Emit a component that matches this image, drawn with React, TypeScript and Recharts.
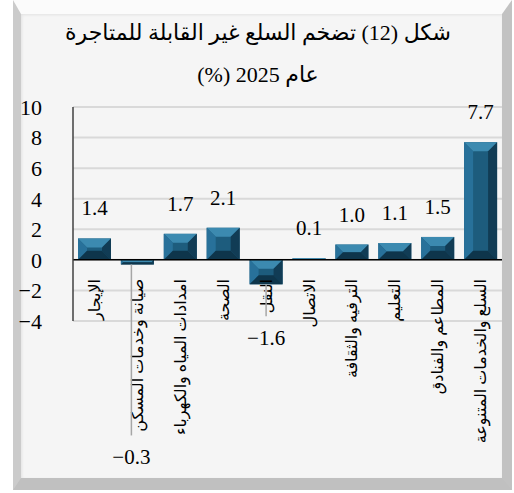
import { BarChart, Bar, XAxis, YAxis, CartesianGrid, ReferenceLine, LabelList } from "recharts";

const categories = [
	"الإيجار",
	"صيانة وخدمات المسكن",
	"امدادات المياه والكهرباء",
	"الصحة",
	"النقل",
	"الاتصال",
	"الترفيه والثقافة",
	"التعليم",
	"المطاعم والفنادق",
	"السلع والخدمات المتنوعة",
];
const values = [1.4, -0.3, 1.7, 2.1, -1.6, 0.1, 1.0, 1.1, 1.5, 7.7];
const yTicks = [-4, -2, 0, 2, 4, 6, 8, 10];
const titleLines = ["شكل (12) تضخم السلع غير القابلة للمتاجرة", "عام 2025 (%)"];

const data = categories.map((name, i) => ({ name, value: values[i] }));

// labels for negative bars were dragged down in the original, with leader lines
const negLabelDrop: Record<number, { drop: number; dx: number }> = {
	1: { drop: 193, dx: -6 },
	4: { drop: 54, dx: 0 },
};

const serif = "'Liberation Serif', 'DejaVu Serif', 'DejaVu Sans', serif";
const fmt = (v: number) => v.toFixed(1).replace("-", "\u2212");

function BevelBar(props: any) {
	const { x, y, width, height } = props;
	const t = Math.min(y, y + height);
	const h = Math.abs(height);
	if (!h || !width) return null;
	const l = x;
	const r = x + width;
	const btm = t + h;
	const b = Math.min(9, width / 2, h / 2);
	return (
		<g>
			<rect x={l} y={t} width={width} height={h} fill="#1d5c7d" />
			<polygon points={`${l},${t} ${r},${t} ${r - b},${t + b} ${l + b},${t + b}`} fill="#3c8ab0" />
			<polygon points={`${l},${t} ${l + b},${t + b} ${l + b},${btm - b} ${l},${btm}`} fill="#28719a" />
			<polygon points={`${r},${t} ${r},${btm} ${r - b},${btm - b} ${r - b},${t + b}`} fill="#113c55" />
			<polygon points={`${l},${btm} ${l + b},${btm - b} ${r - b},${btm - b} ${r},${btm}`} fill="#0e354b" />
		</g>
	);
}

function ValueLabel(props: any) {
	const vb = props.viewBox ?? props;
	const { x, y, width, height } = vb;
	const index = props.index;
	const value = Number(props.value);
	const t = Math.min(y, y + height);
	const btm = Math.max(y, y + height);
	const cx = x + width / 2;
	if (value >= 0) {
		return (
			<text x={cx} y={t - 23} textAnchor="middle" fontSize={21} fontFamily={serif} fill="#000">
				{fmt(value)}
			</text>
		);
	}
	const off = negLabelDrop[index] ?? { drop: 30, dx: 0 };
	return (
		<g>
			<line x1={cx + off.dx} x2={cx + off.dx} y1={btm} y2={btm + off.drop - 22} stroke="#a6a6a6" strokeWidth={1.5} />
			<text x={cx + off.dx} y={btm + off.drop + 7} textAnchor="middle" fontSize={21} fontFamily={serif} fill="#000">
				{fmt(value)}
			</text>
		</g>
	);
}

function CategoryTick(props: any) {
	const { x, y, payload } = props;
	return (
		<text
			x={0}
			y={0}
			dy="0.35em"
			transform={`translate(${x},${y - 50}) rotate(-90)`}
			textAnchor="end"
			fontSize={16}
			fontFamily={serif}
			fill="#000"
		>
			{payload.value}
		</text>
	);
}

export default function App() {
	return (
		<div style={{ position: "absolute", left: 0, top: 0, width: 514, height: 493, background: "#ffffff", overflow: "hidden" }}>
			<div
				style={{
					position: "absolute",
					left: 13,
					top: 0,
					width: 499,
					height: 490,
					boxSizing: "border-box",
					borderStyle: "solid",
					borderWidth: "14px 10px 12px 8px",
					borderColor: "#fbfbfb #c2c2c2 #c0c0c0 #cbcbcb",
					background: "#f5f5f5",
					boxShadow: "inset 1px 1px 3px rgba(0,0,0,0.08)",
				}}
			/>
			<div
				style={{
					position: "absolute",
					left: 20,
					top: 12,
					width: 476,
					textAlign: "center",
					direction: "rtl",
					fontFamily: serif,
					fontSize: 22,
					lineHeight: "42px",
					color: "#000",
				}}
			>
				{titleLines.map((line) => (
					<div key={line}>{line}</div>
				))}
			</div>
			<BarChart
				width={514}
				height={493}
				data={data}
				margin={{ top: 107, right: 12, bottom: 0, left: 0 }}
				barCategoryGap={5}
				style={{ position: "absolute", left: 0, top: 0 }}
			>
				<CartesianGrid vertical={false} stroke="#d9d9d9" strokeWidth={2} />
				<XAxis
					dataKey="name"
					height={172}
					axisLine={false}
					tickLine={false}
					interval={0}
					tick={<CategoryTick />}
				/>
				<YAxis
					domain={[-4, 10]}
					ticks={yTicks}
					interval={0}
					width={73}
					tickLine={false}
					tickSize={0}
					tickMargin={31}
					axisLine={{ stroke: "#404040", strokeWidth: 1.5 }}
					tickFormatter={(v: number) => String(v).replace("-", "\u2212")}
					tick={{ fontSize: 22, fontFamily: serif, fill: "#000" }}
				/>
				<ReferenceLine y={0} stroke="#000" strokeWidth={1.5} />
				<Bar dataKey="value" shape={<BevelBar />} isAnimationActive={false}>
					<LabelList dataKey="value" content={<ValueLabel />} />
				</Bar>
			</BarChart>
		</div>
	);
}
